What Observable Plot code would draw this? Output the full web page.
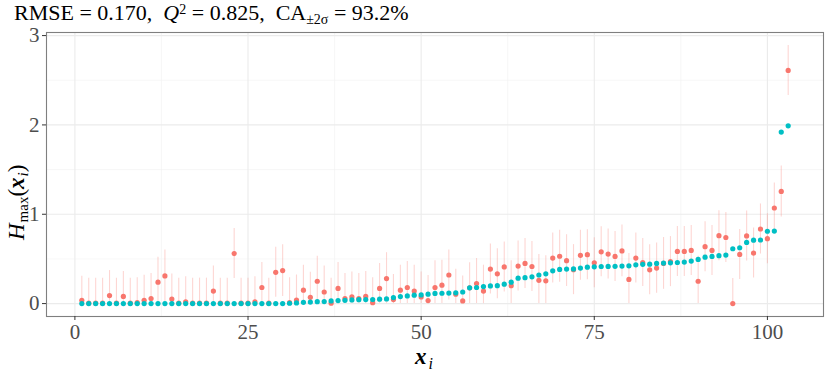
<!DOCTYPE html>
<html>
<head>
<meta charset="utf-8">
<script src="https://cdn.jsdelivr.net/npm/d3@7"></script>
<script src="https://cdn.jsdelivr.net/npm/@observablehq/plot@0.6"></script>
<style>
  body { margin: 0; background: #fff; }
  #title { font-family: "Liberation Serif", serif; font-size: 22px; color: #000; box-sizing: border-box; height: 24px; padding-top: 2px; line-height: 22px; padding-left: 14px; white-space: nowrap; }
  #title sub { font-size: 14px; vertical-align: -4px; line-height: 0; }
  #title sup { font-size: 14px; vertical-align: 6px; line-height: 0; }
</style>
</head>
<body>
<div id="title">RMSE = 0.170,&nbsp; <i>Q</i><sup>2</sup> = 0.825,&nbsp; CA<sub>±2σ</sub> = 93.2%</div>
<div id="chart"></div>
<script>
// true (sorted) values, teal
const truth = [
  0,0,0,0,0,0,0,0,0,0,
  0,0,0,0,0,0,0,0,0,0,
  0,0,0,0,0,0,0,0,0,0,
  0.004,0.008,0.014,0.017,0.022,0.023,0.03,0.034,0.037,0.041,
  0.044,0.045,0.046,0.049,0.052,0.067,0.079,0.086,0.094,0.097,
  0.105,0.114,0.116,0.118,0.12,0.13,0.176,0.18,0.19,0.198,
  0.2,0.217,0.24,0.285,0.29,0.3,0.32,0.333,0.367,0.382,
  0.386,0.388,0.397,0.408,0.412,0.415,0.416,0.417,0.42,0.423,
  0.434,0.44,0.441,0.45,0.453,0.456,0.46,0.465,0.476,0.494,
  0.52,0.528,0.536,0.543,0.614,0.625,0.685,0.71,0.712,0.81,
  0.812,1.92,1.99
];
// predicted means, red
const pred = [
  0.037,0.005,0.005,0.005,0.09,0.005,0.08,0.005,0.01,0.037,
  0.056,0.24,0.31,0.05,0.005,0.02,0.005,0.005,0.005,0.14,
  0.005,0.005,0.56,0.005,0.005,0.02,0.18,0.005,0.35,0.37,
  0.01,0.04,0.15,0.07,0.25,0.13,0.005,0.17,0.056,0.075,
  0.056,0.08,0.01,0.17,0.28,0.045,0.15,0.18,0.14,0.075,
  0.034,0.18,0.206,0.32,0.105,0.03,0.176,0.225,0.14,0.386,
  0.333,0.41,0.2,0.42,0.45,0.415,0.26,0.255,0.51,0.53,
  0.48,0.38,0.54,0.547,0.457,0.58,0.554,0.528,0.59,0.27,
  0.51,0.46,0.378,0.397,0.45,0.47,0.584,0.584,0.595,0.25,
  0.637,0.595,0.76,0.74,0.0,0.55,0.757,0.566,0.835,0.727,
  1.07,1.255,2.61
];
// 2-sigma half-widths of the prediction intervals
const hw = [
  0.27,0.28,0.28,0.28,0.28,0.28,0.28,0.28,0.28,0.28,
  0.28,0.28,0.29,0.28,0.28,0.28,0.28,0.28,0.28,0.28,
  0.28,0.28,0.28,0.28,0.28,0.28,0.28,0.28,0.28,0.29,
  0.28,0.28,0.28,0.28,0.28,0.29,0.28,0.29,0.28,0.28,
  0.28,0.28,0.28,0.28,0.29,0.28,0.28,0.29,0.29,0.28,
  0.28,0.3,0.28,0.28,0.28,0.28,0.28,0.28,0.29,0.28,
  0.28,0.28,0.28,0.28,0.28,0.28,0.29,0.28,0.28,0.29,
  0.29,0.28,0.28,0.28,0.28,0.28,0.28,0.28,0.29,0.29,
  0.28,0.27,0.28,0.28,0.29,0.28,0.28,0.28,0.28,0.28,
  0.28,0.28,0.28,0.28,0.28,0.28,0.28,0.28,0.28,0.28,
  0.28,0.285,0.28
];
const xTicks = [0, 25, 50, 75, 100];
const xMinor = [12.5, 37.5, 62.5, 87.5];
const yTicks = [0, 1, 2, 3];
const yMinor = [0.5, 1.5, 2.5];

const rows = truth.map((t, k) => ({
  i: k + 1, truth: t, pred: pred[k],
  lo: Math.max(0, pred[k] - hw[k]), hi: pred[k] + hw[k]
}));

const W = 830, H = 357;
const plot = Plot.plot({
  width: W, height: H,
  marginLeft: 46, marginRight: 7, marginTop: 8, marginBottom: 65,
  style: { fontFamily: "Liberation Serif, serif", background: "#fff" },
  x: { domain: [-4.1, 108.1], label: null },
  y: { domain: [-0.1445, 3.0345], label: null },
  marks: [
    Plot.gridX(xMinor, { stroke: "#f2f2f2", strokeOpacity: 1, strokeWidth: 0.6 }),
    Plot.gridY(yMinor, { stroke: "#f2f2f2", strokeOpacity: 1, strokeWidth: 0.6 }),
    Plot.gridX(xTicks, { stroke: "#ebebeb", strokeOpacity: 1, strokeWidth: 1.1 }),
    Plot.gridY(yTicks, { stroke: "#ebebeb", strokeOpacity: 1, strokeWidth: 1.1 }),
    Plot.ruleX(rows, { x: "i", y1: "lo", y2: "hi", stroke: "#F8766D", strokeOpacity: 0.3, strokeWidth: 1.1 }),
    Plot.dot(rows, { x: "i", y: "pred", r: 2.6, fill: "#F8766D", stroke: null }),
    Plot.dot(rows, { x: "i", y: "truth", r: 2.6, fill: "#00BFC4", stroke: null }),
    Plot.frame({ stroke: "#7f7f7f", strokeWidth: 1.1 }),
    Plot.axisX(xTicks, { tickSize: 4, tickPadding: 4, fontSize: 21, color: "#4d4d4d", stroke: "#333", label: null, tickFormat: "d" }),
    Plot.axisY(yTicks, { tickSize: 4, tickPadding: 3, fontSize: 21, color: "#4d4d4d", stroke: "#333", label: null, tickFormat: "d" })
  ]
});
document.getElementById("chart").appendChild(plot);

// axis titles with math styling
const svg = d3.select(plot);
const xl = svg.append("text")
  .attr("x", 415).attr("y", 340)
  .attr("text-anchor", "start")
  .attr("font-family", "Liberation Serif, serif")
  .attr("font-size", 23).attr("fill", "#000");
xl.append("tspan").attr("font-weight", "bold").attr("font-style", "italic").text("x");
xl.append("tspan").attr("font-style", "italic").attr("font-size", 16).attr("dx", 2).attr("dy", 5).text("i");

const yl = svg.append("text")
  .attr("transform", "translate(24,216) rotate(-90)")
  .attr("text-anchor", "start")
  .attr("font-family", "Liberation Serif, serif")
  .attr("font-size", 23).attr("fill", "#000");
yl.append("tspan").attr("font-style", "italic").text("H");
yl.append("tspan").attr("font-size", 15).attr("dx", 1).attr("dy", 4).text("max");
yl.append("tspan").attr("dy", -4).text("(");
yl.append("tspan").attr("font-weight", "bold").attr("font-style", "italic").text("x");
yl.append("tspan").attr("font-style", "italic").attr("font-size", 15).attr("dx", 1).attr("dy", 4).text("i");
yl.append("tspan").attr("dy", -4).text(")");
</script>
</body>
</html>
